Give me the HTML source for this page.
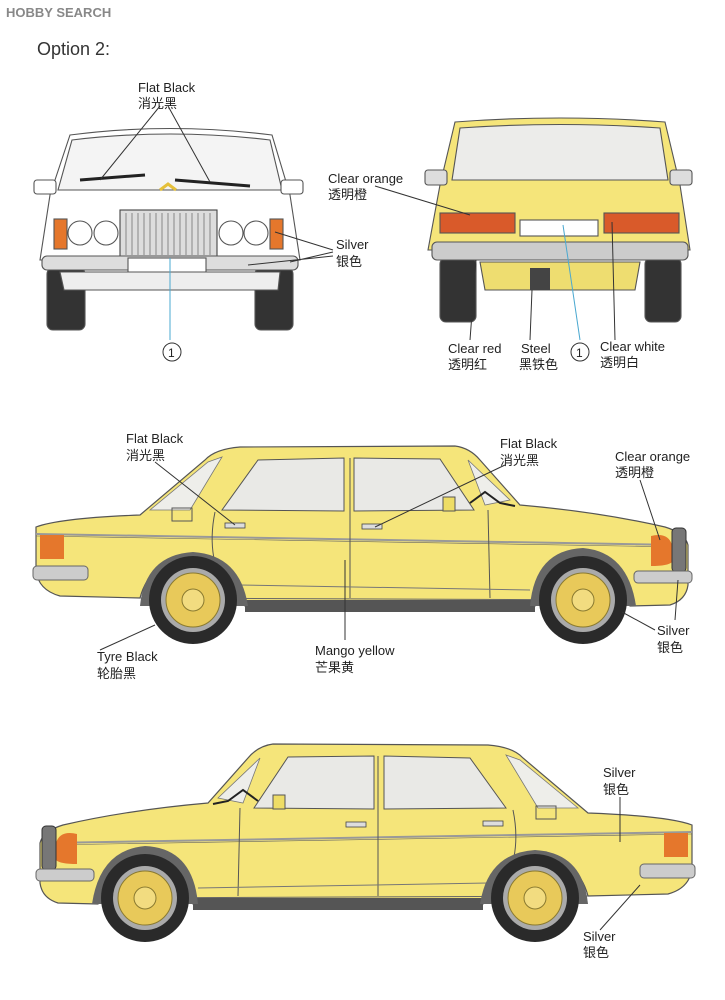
<!DOCTYPE html>
<html><head><meta charset="utf-8"><style>
body{margin:0;background:#fff;}
svg{display:block;font-family:"Liberation Sans","Noto Sans CJK SC",sans-serif;}
text{font-size:13px;fill:#222;}
</style></head><body>
<svg width="725" height="1000" viewBox="0 0 725 1000">
<defs>
<g id="side">
 <path d="M36,527 Q60,518 140,515 L205,460 Q215,449 240,447 L455,446 Q470,448 480,460 L520,505 Q600,512 665,527 Q685,533 688,545 L688,585 Q686,600 670,605 L630,606 Q615,560 583,558 Q548,558 535,606 L245,606 Q235,560 193,558 Q150,560 140,598 L60,596 Q38,590 36,570 Z" fill="#f5e57a" stroke="#555" stroke-width="1.2"/>
 <path d="M222,510 L258,460 L344,458 L344,511 Z" fill="#e9e9e6" stroke="#555"/>
 <path d="M354,511 L354,458 L440,459 L474,510 Z" fill="#e9e9e6" stroke="#555"/>
 <path d="M150,510 L208,462 L222,457 L190,510 Z" fill="#eeeeea" stroke="#777" stroke-width=".8"/>
 <path d="M468,460 L510,500 L485,505 Z" fill="#eeeeea" stroke="#777" stroke-width=".8"/>
 <path d="M36,534 L680,545" stroke="#999" stroke-width="2" fill="none"/>
 <path d="M36,536 L680,547" stroke="#666" stroke-width=".6" fill="none"/>
 <path d="M215,512 Q205,560 230,598" stroke="#555" fill="none"/>
 <path d="M350,458 L350,598" stroke="#555" fill="none"/>
 <path d="M488,510 L490,598" stroke="#555" fill="none"/>
 <path d="M240,585 L530,590" stroke="#777" fill="none"/>
 <path d="M140,598 L630,600" stroke="#666" fill="none"/>
 <rect x="172" y="508" width="20" height="13" fill="none" stroke="#555"/>
 <rect x="225" y="523" width="20" height="5" fill="#ddd" stroke="#444" stroke-width=".8"/>
 <rect x="362" y="524" width="20" height="5" fill="#ddd" stroke="#444" stroke-width=".8"/>
 <rect x="443" y="497" width="12" height="14" fill="#eedd66" stroke="#555"/>
 <path d="M470,503 L485,492 L500,503 L515,506" stroke="#222" stroke-width="2" fill="none"/>
 <rect x="40" y="535" width="24" height="24" fill="#e5772c"/>
 <path d="M651,536 Q668,532 672,545 L672,562 Q668,566 651,566 Z" fill="#e5772c"/>
 <rect x="672" y="528" width="14" height="44" rx="4" fill="#777" stroke="#333"/>
 <rect x="33" y="566" width="55" height="14" rx="4" fill="#ccc" stroke="#666"/>
 <rect x="634" y="571" width="58" height="12" rx="4" fill="#ccc" stroke="#666"/>
 <rect x="245" y="600" width="290" height="12" fill="#555"/>
 <path d="M140,606 Q145,555 193,552 Q240,555 248,606 Z" fill="#666"/>
 <path d="M530,606 Q535,550 583,548 Q628,552 636,606 Z" fill="#666"/>
 <circle cx="193" cy="600" r="44" fill="#2a2a2a"/>
 <circle cx="193" cy="600" r="32" fill="#aaa"/>
 <circle cx="193" cy="600" r="27" fill="#e8c95a" stroke="#8a7a30"/>
 <circle cx="193" cy="600" r="11" fill="#f2dc80" stroke="#8a7a30"/>
 <circle cx="583" cy="600" r="44" fill="#2a2a2a"/>
 <circle cx="583" cy="600" r="32" fill="#aaa"/>
 <circle cx="583" cy="600" r="27" fill="#e8c95a" stroke="#8a7a30"/>
 <circle cx="583" cy="600" r="11" fill="#f2dc80" stroke="#8a7a30"/>
</g>
</defs>

<text x="6" y="17" style="font-size:13px;font-weight:bold;fill:#888">HOBBY SEARCH</text>
<text x="37" y="55" style="font-size:18px;fill:#333">Option 2:</text>

<g stroke="#555" stroke-width="1.1">
 <rect x="47" y="268" width="38" height="62" rx="6" fill="#333"/>
 <rect x="255" y="268" width="38" height="62" rx="6" fill="#333"/>
 <path d="M70,135 Q170,122 272,135 L290,195 L300,260 L40,260 L50,195 Z" fill="#fff"/>
 <path d="M72,140 Q170,128 270,140 L282,190 L58,190 Z" fill="#f4f4f4"/>
 <rect x="34" y="180" width="22" height="14" rx="3" fill="#fff"/>
 <rect x="281" y="180" width="22" height="14" rx="3" fill="#fff"/>
 <rect x="120" y="210" width="97" height="48" fill="#ddd" stroke="#444"/>
 <circle cx="80" cy="233" r="12" fill="#fff"/><circle cx="106" cy="233" r="12" fill="#fff"/>
 <circle cx="231" cy="233" r="12" fill="#fff"/><circle cx="256" cy="233" r="12" fill="#fff"/>
 <rect x="54" y="219" width="13" height="30" fill="#e5772c"/>
 <rect x="270" y="219" width="13" height="30" fill="#e5772c"/>
 <rect x="42" y="256" width="256" height="14" rx="5" fill="#ddd"/>
 <rect x="128" y="258" width="78" height="15" fill="#fff"/>
 <path d="M60,272 L280,272 L278,290 L64,290 Z" fill="#eee"/>
</g>
<path d="M126,213v42M132,213v42M138,213v42M144,213v42M150,213v42M156,213v42M162,213v42M168,213v42M174,213v42M180,213v42M186,213v42M192,213v42M198,213v42M204,213v42M210,213v42" stroke="#888" stroke-width="1"/>
<path d="M80,180 L145,175 M175,180 L250,186" stroke="#222" stroke-width="3"/>
<path d="M160,190 L168,184 L176,190" stroke="#e5c03a" stroke-width="3" fill="none"/>
<g stroke="#333" stroke-width="1" fill="none">
 <path d="M160,106 L100,180 M168,106 L210,182"/>
 <path d="M333,250 L275,232 M333,252 L290,262 M333,256 L248,265"/>
</g>
<path d="M170,258 L170,340" stroke="#4aa8d0" stroke-width="1"/>
<text x="138" y="92">Flat Black</text><text x="138" y="108">消光黑</text>
<text x="336" y="249">Silver</text><text x="336" y="266">银色</text>
<circle cx="172" cy="352" r="9" fill="none" stroke="#333"/><text x="168" y="357" style="font-size:12px">1</text>

<g stroke="#555" stroke-width="1.1">
 <rect x="440" y="258" width="36" height="64" rx="6" fill="#333"/>
 <rect x="645" y="258" width="36" height="64" rx="6" fill="#333"/>
 <path d="M455,122 Q560,114 665,122 L680,185 L690,250 L428,250 L440,185 Z" fill="#f5e57a"/>
 <path d="M460,128 Q560,121 660,128 L668,180 L452,180 Z" fill="#ececea"/>
 <rect x="425" y="170" width="22" height="15" rx="3" fill="#ddd"/>
 <rect x="670" y="170" width="22" height="15" rx="3" fill="#ddd"/>
 <rect x="440" y="213" width="75" height="20" fill="#d95a2a"/>
 <rect x="604" y="213" width="75" height="20" fill="#d95a2a"/>
 <rect x="520" y="220" width="78" height="16" fill="#fff"/>
 <rect x="432" y="242" width="256" height="18" rx="5" fill="#ccc"/>
 <path d="M480,262 L640,262 L635,290 L485,290 Z" fill="#eedd70"/>
</g>
<rect x="530" y="268" width="20" height="22" fill="#444"/>
<g stroke="#333" stroke-width="1" fill="none">
 <path d="M375,186 L470,215"/>
 <path d="M470,340 L476,260 M530,340 L532,290 M615,340 L612,222"/>
</g>
<path d="M563,225 L580,340" stroke="#4aa8d0"/>
<text x="328" y="183">Clear orange</text><text x="328" y="199">透明橙</text>
<text x="448" y="353">Clear red</text><text x="448" y="369">透明红</text>
<text x="521" y="353">Steel</text><text x="519" y="369">黑铁色</text>
<circle cx="580" cy="352" r="9" fill="none" stroke="#333"/><text x="576" y="357" style="font-size:12px">1</text>
<text x="600" y="351">Clear white</text><text x="600" y="367">透明白</text>

<use href="#side"/>
<g stroke="#333" stroke-width="1" fill="none">
 <path d="M155,462 L235,525 M505,465 L375,527 M640,480 L660,540 M100,650 L155,625 M345,640 L345,560 M655,630 L622,612 M675,620 L678,580"/>
</g>
<text x="126" y="443">Flat Black</text><text x="126" y="460">消光黑</text>
<text x="500" y="448">Flat Black</text><text x="500" y="465">消光黑</text>
<text x="615" y="461">Clear orange</text><text x="615" y="477">透明橙</text>
<text x="97" y="661">Tyre Black</text><text x="97" y="678">轮胎黑</text>
<text x="315" y="655">Mango yellow</text><text x="315" y="672">芒果黄</text>
<text x="657" y="635">Silver</text><text x="657" y="652">银色</text>

<use href="#side" transform="translate(728,298) scale(-1,1)"/>
<g stroke="#333" stroke-width="1" fill="none">
 <path d="M620,797 L620,842 M600,930 L640,885"/>
</g>
<text x="603" y="777">Silver</text><text x="603" y="794">银色</text>
<text x="583" y="941">Silver</text><text x="583" y="957">银色</text>
</svg>
</body></html>
